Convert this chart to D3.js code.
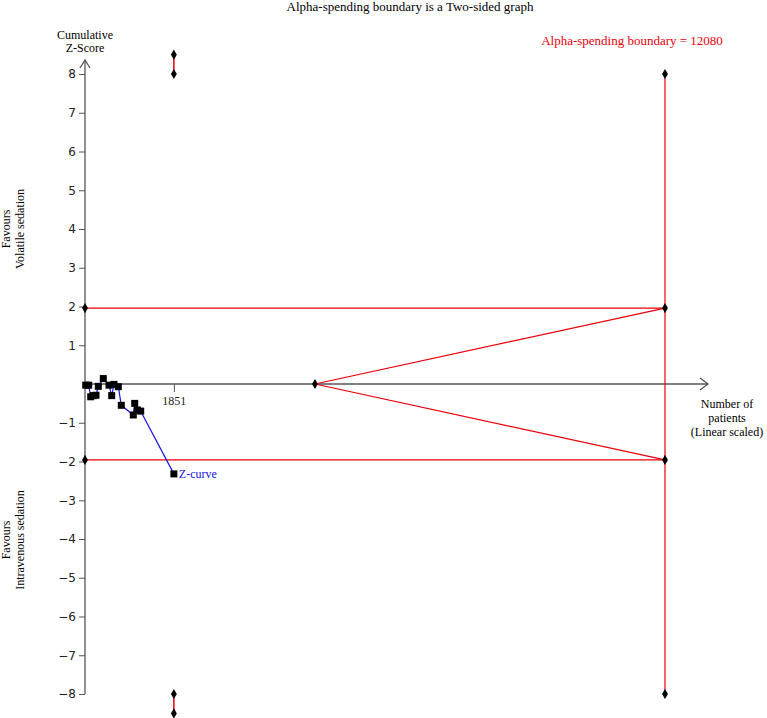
<!DOCTYPE html>
<html><head><meta charset="utf-8">
<script src="https://cdn.jsdelivr.net/npm/d3@7"></script>
<style>body{margin:0;background:#fff}svg{display:block}</style>
</head><body>
<svg id="c" width="767" height="718"></svg>
<script>
// ---- data ----
const title = "Alpha-spending boundary is a Two-sided graph";
const yTicks = [-8,-7,-6,-5,-4,-3,-2,-1,1,2,3,4,5,6,7,8];
const xTickValues = [1851];
const xTickLabels = ["1851"];
const zPatients = [15, 77, 119, 173, 229, 277, 381, 500, 556, 604, 694, 756, 1006, 1035, 1090, 1160, 1851];
const zScores   = [-0.03, -0.03, -0.33, -0.30, -0.29, -0.06, 0.14, -0.03, -0.30, -0.01, -0.07, -0.55, -0.80, -0.50, -0.67, -0.70, -2.32];
const conventional = [1.96, -1.96];
const alphaX = [4790, 12080];
const alphaUpper = [0, 1.96];
const alphaLower = [0, -1.96];
const requiredSize = 12080;
const accrued = 1851;
const outerLimit = [8, 8.5];

const svg = d3.select("#c");
const x = d3.scaleLinear().domain([0, 12080]).range([85, 665]);
const y = d3.scaleLinear().domain([-8, 8]).range([694, 74]);
const serif = "'Liberation Serif','Times New Roman',serif";
const sans = "'DejaVu Sans',Verdana,sans-serif";
const red = "#e8000b", axisCol = "#555";

// title
svg.append("text").attr("x", 410).attr("y", 11).attr("text-anchor","middle")
  .attr("font-family", serif).attr("font-size", 13).text(title);

// y axis
const yAxis = d3.axisLeft(y).tickValues(yTicks).tickSize(6).tickPadding(3)
  .tickFormat(d => d < 0 ? "\u2212" + Math.abs(d) : d);
const gy = svg.append("g").attr("transform", `translate(${x(0)},0)`).call(yAxis);
gy.select(".domain").remove();
gy.selectAll("line").attr("stroke", axisCol);
gy.selectAll("text").attr("font-family", sans).attr("font-size", 12).attr("fill", "#222");
svg.append("line").attr("x1", x(0)).attr("x2", x(0)).attr("y1", y(-8)).attr("y2", 60)
  .attr("stroke", axisCol).attr("stroke-width", 1.3);
svg.append("path").attr("d", `M${x(0)-5},${68} L${x(0)},60 L${x(0)+5},68`)
  .attr("fill","none").attr("stroke", axisCol).attr("stroke-width", 1.3);

// x axis
svg.append("line").attr("x1", x(0)).attr("x2", 708).attr("y1", y(0)).attr("y2", y(0))
  .attr("stroke", axisCol).attr("stroke-width", 1.3);
svg.append("path").attr("d", `M700,${y(0)-6} L708,${y(0)} L700,${y(0)+6}`)
  .attr("fill","none").attr("stroke", axisCol).attr("stroke-width", 1.3);
const xAxis = d3.axisBottom(x).tickValues(xTickValues).tickSize(8).tickPadding(4)
  .tickFormat((d,i) => xTickLabels[i]);
const gx = svg.append("g").attr("transform", `translate(0,${y(0)})`).call(xAxis);
gx.select(".domain").remove();
gx.selectAll("line").attr("stroke", axisCol);
gx.selectAll("text").attr("font-family", serif).attr("font-size", 12).attr("fill","#222");

// axis titles
[["Cumulative", 39], ["Z-Score", 52]].forEach(([t, yy]) =>
  svg.append("text").attr("x", 85).attr("y", yy).attr("text-anchor","middle")
    .attr("font-family", serif).attr("font-size", 12).text(t));
[["Number of", 408], ["patients", 422], ["(Linear scaled)", 436]].forEach(([t, yy]) =>
  svg.append("text").attr("x", 727).attr("y", yy).attr("text-anchor","middle")
    .attr("font-family", serif).attr("font-size", 12).text(t));
function rotLabel(lines, cy) {
  const g = svg.append("g").attr("transform", `translate(0,${cy}) rotate(-90)`);
  lines.forEach((t, i) => g.append("text").attr("x", 0).attr("y", 10 + i*14)
    .attr("text-anchor","middle").attr("font-family", serif).attr("font-size", 12).text(t));
}
rotLabel(["Favours", "Volatile sedation"], 229);
rotLabel(["Favours", "Intravenous sedation"], 540);

// boundaries
conventional.forEach(v => svg.append("line").attr("x1", x(0)).attr("x2", x(requiredSize))
  .attr("y1", y(v)).attr("y2", y(v)).attr("stroke", red).attr("stroke-width", 1.2));
const ln = d3.line().x(d => x(d[0])).y(d => y(d[1]));
[alphaUpper, alphaLower].forEach(b => svg.append("path")
  .attr("d", ln(alphaX.map((v,i) => [v, b[i]]))).attr("fill","none").attr("stroke", red).attr("stroke-width", 1.2));
svg.append("line").attr("x1", x(requiredSize)).attr("x2", x(requiredSize))
  .attr("y1", y(8)).attr("y2", y(-8)).attr("stroke", red).attr("stroke-width", 1.2);
[1, -1].forEach(s => svg.append("line").attr("x1", x(accrued)).attr("x2", x(accrued))
  .attr("y1", y(s*outerLimit[0])).attr("y2", y(s*outerLimit[1])).attr("stroke", red).attr("stroke-width", 1.5));

const diamond = d3.symbol().type(d3.symbolDiamond).size(30);
const diamonds = [
  [0, 1.96], [0, -1.96], [alphaX[0], 0],
  [requiredSize, 8], [requiredSize, 1.96], [requiredSize, -1.96], [requiredSize, -8],
  [accrued, 8], [accrued, 8.5], [accrued, -8], [accrued, -8.5]
];
svg.selectAll(".dm").data(diamonds).join("path").attr("class","dm")
  .attr("d", diamond).attr("transform", d => `translate(${x(d[0])},${y(d[1])})`).attr("fill","#000");

svg.append("text").attr("x", x(requiredSize) - 33).attr("y", 45).attr("text-anchor","middle")
  .attr("font-family", serif).attr("font-size", 13).attr("fill", red)
  .text("Alpha-spending boundary = " + requiredSize);

// z-curve
const zData = zPatients.map((v,i) => [v, zScores[i]]);
svg.append("path").attr("d", ln(zData)).attr("fill","none").attr("stroke","#1515e8").attr("stroke-width", 1.2);
svg.selectAll(".sq").data(zData).join("rect").attr("class","sq")
  .attr("x", d => x(d[0]) - 3.5).attr("y", d => y(d[1]) - 3.5).attr("width", 7).attr("height", 7).attr("fill","#000");
const last = zData[zData.length-1];
svg.append("text").attr("x", x(last[0]) + 5).attr("y", y(last[1]) + 4)
  .attr("font-family", serif).attr("font-size", 12).attr("fill","#1515e8").text("Z-curve");
</script>
</body></html>
